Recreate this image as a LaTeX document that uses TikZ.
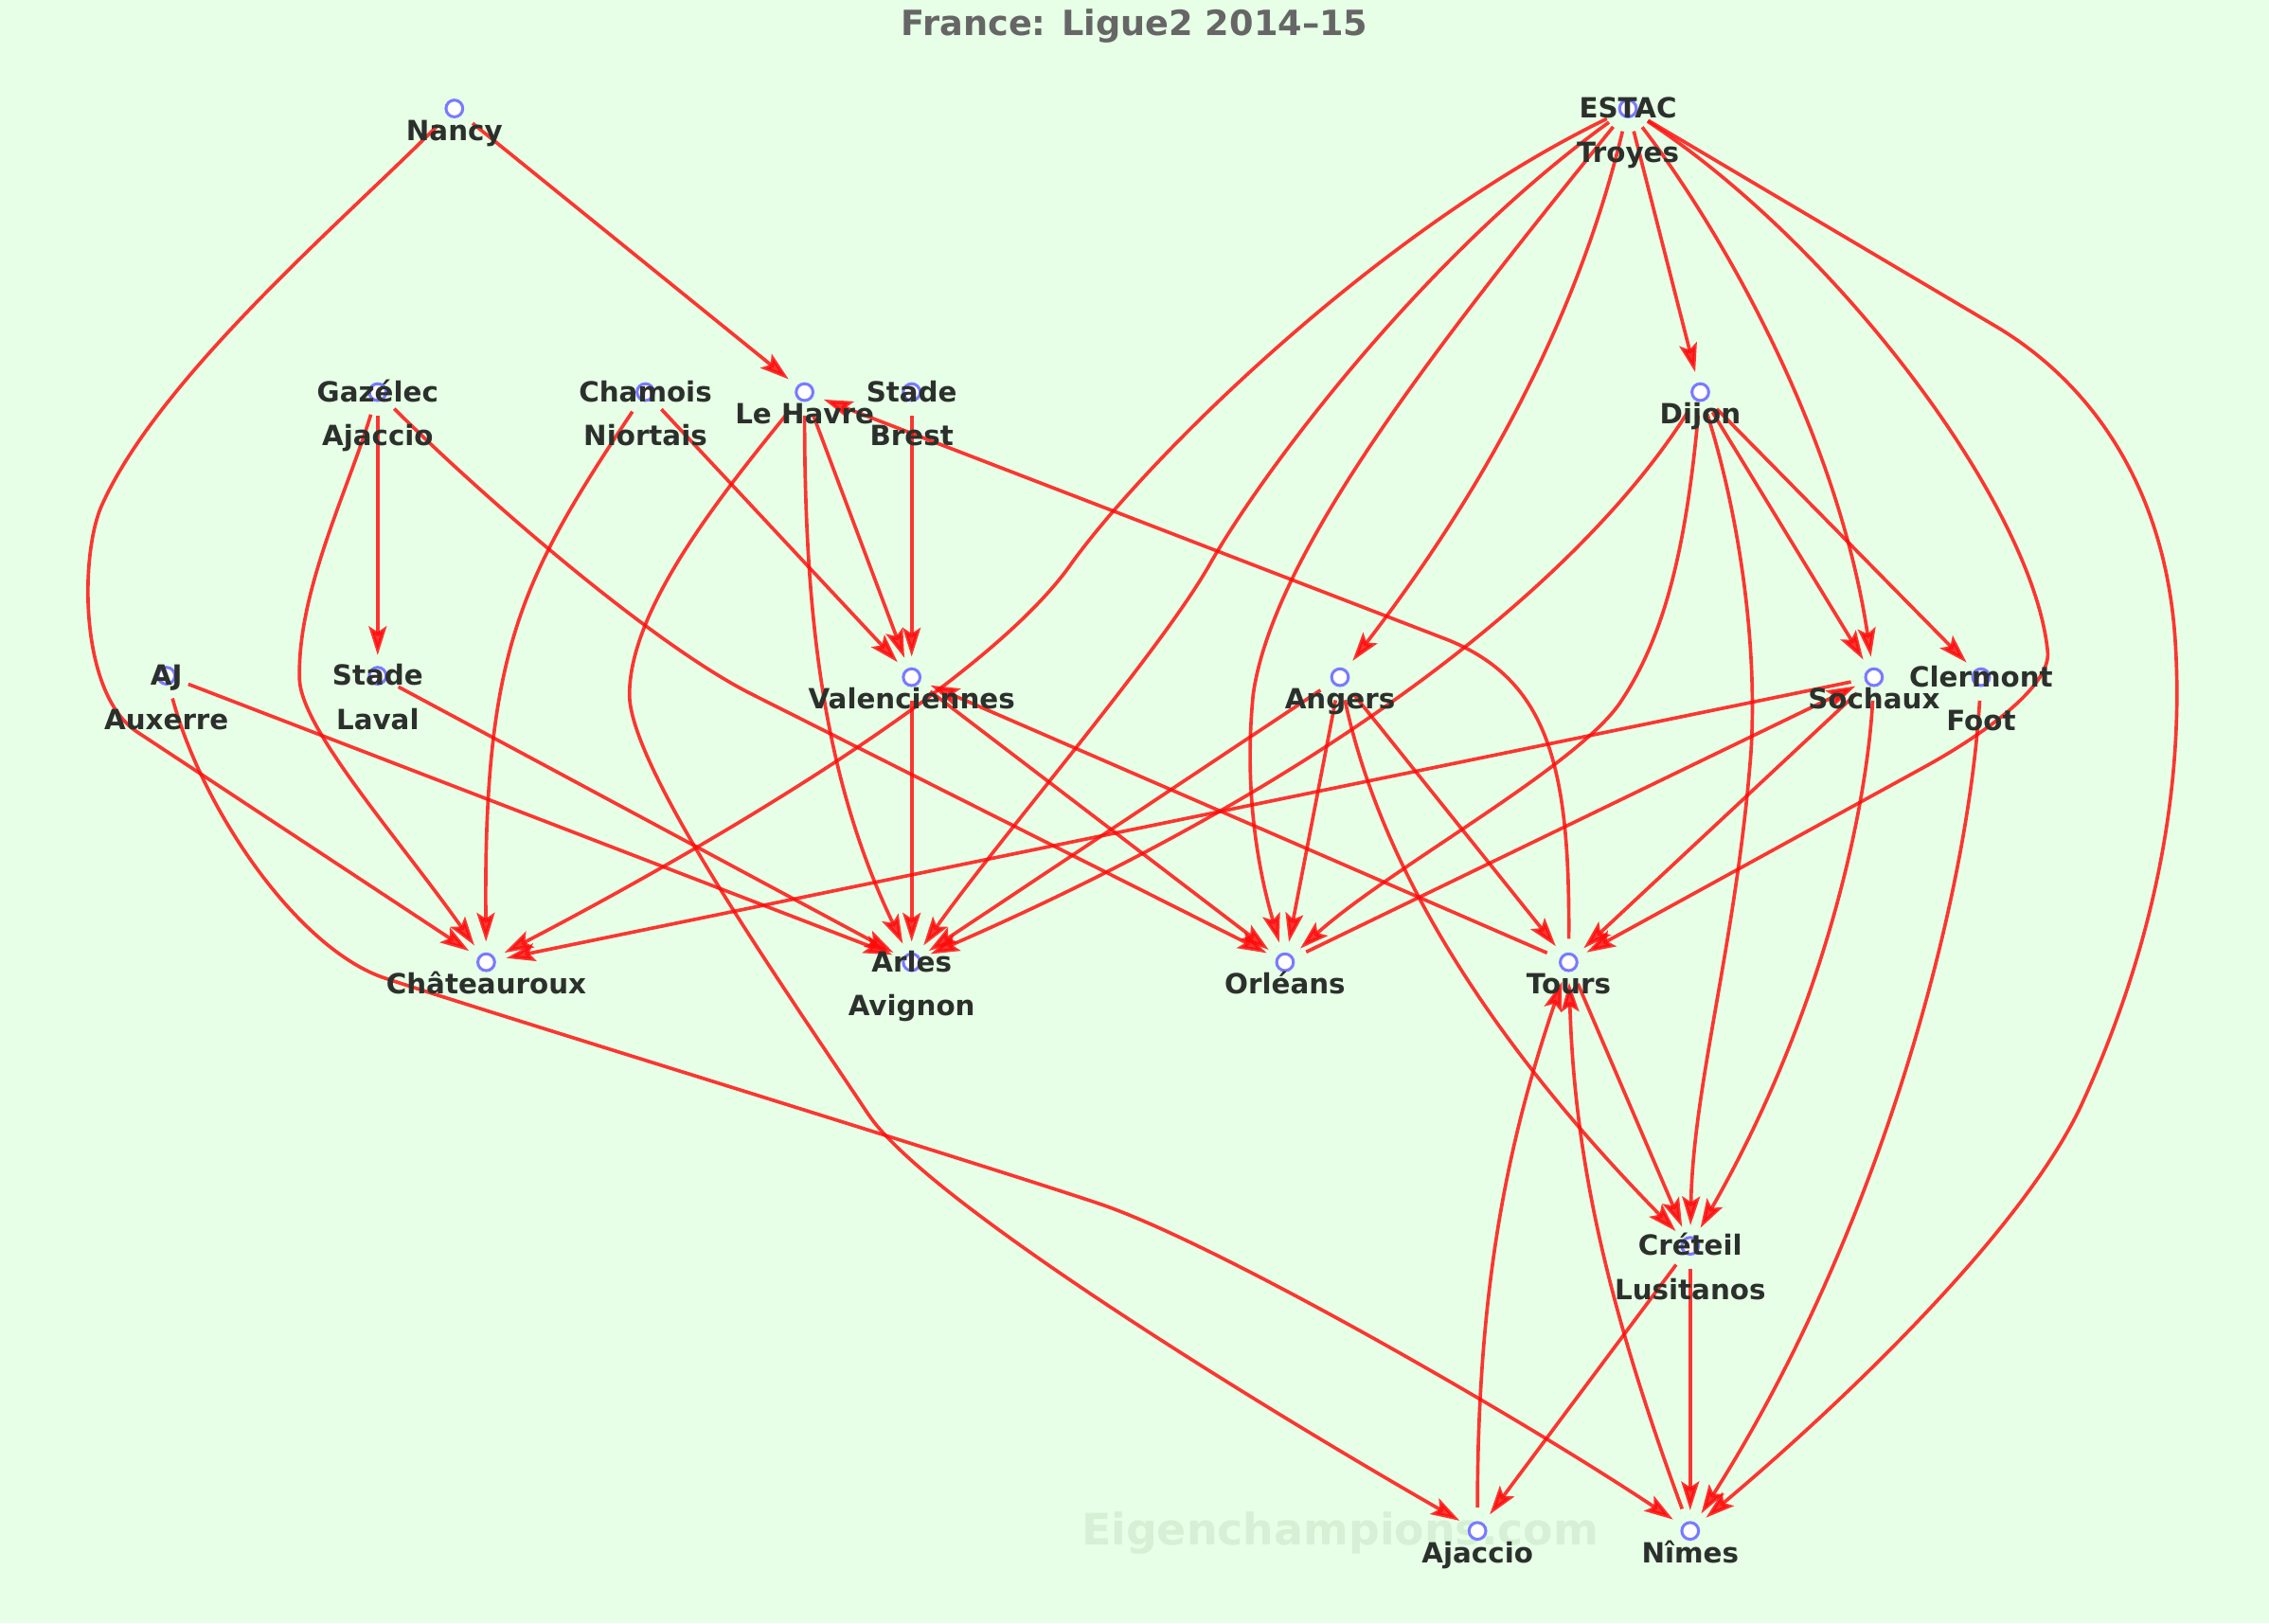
\documentclass[tikz,border=0pt]{standalone}
\usepackage{fontspec}
\setmainfont{DejaVu Sans}
\usetikzlibrary{arrows.meta}
\definecolor{bgc}{RGB}{230,255,230}
\definecolor{dotc}{RGB}{122,122,255}
\definecolor{edgec}{RGB}{255,10,10}
\definecolor{txtc}{RGB}{44,48,44}
\definecolor{ttlc}{RGB}{102,102,102}
\definecolor{wmc}{RGB}{214,240,214}
\tikzset{
  teamdot/.style={circle, draw=dotc, fill=white, line width=1pt, minimum size=5.8pt, inner sep=0pt},
  lbl/.style={font=\fontsize{9.6}{11}\selectfont\bfseries, text=txtc, inner sep=0pt, anchor=base},
  conn/.style={draw=edgec, opacity=0.82, line width=1.2pt,
    -{Stealth[length=10pt,width=6.2pt,inset=2pt]}, shorten <=4.7pt, shorten >=3.7pt},
}
\begin{document}
\begin{tikzpicture}[x=0.5pt,y=-0.5pt]
\fill[bgc] (0,0) rectangle (1568,1122);
\useasboundingbox (0,0) rectangle (1568,1122);
\node[font=\fontsize{12}{14}\selectfont\bfseries, text=ttlc, anchor=base, inner sep=0pt] (title) at (784,24.5) {France: Ligue2 2014–15};
\node[font=\fontsize{15}{18}\selectfont\bfseries, text=wmc, anchor=base, inner sep=0pt] (wm) at (926,1067.5) {Eigenchampions.com};
% team nodes
\node[teamdot] (nancy) at (314,75) {};
\node[teamdot] (estac) at (1125,75) {};
\node[teamdot] (gaz) at (261,271) {};
\node[teamdot] (niort) at (446,271) {};
\node[teamdot] (havre) at (556,271) {};
\node[teamdot] (brest) at (630,271) {};
\node[teamdot] (dijon) at (1175,271) {};
\node[teamdot] (aj) at (115,467) {};
\node[teamdot] (laval) at (261,467) {};
\node[teamdot] (valen) at (630,468) {};
\node[teamdot] (angers) at (926,468) {};
\node[teamdot] (sochaux) at (1295,468) {};
\node[teamdot] (clermont) at (1369,468) {};
\node[teamdot] (chat) at (336,665) {};
\node[teamdot] (arles) at (630,665) {};
\node[teamdot] (orleans) at (888,665) {};
\node[teamdot] (tours) at (1084,665) {};
\node[teamdot] (creteil) at (1168,861) {};
\node[teamdot] (ajaccio) at (1021,1058) {};
\node[teamdot] (nimes) at (1168,1058) {};
% connectors
\draw[conn] (nancy) -- (havre);
\draw[conn] (nancy) .. controls (240,150) and (110,260) .. (70,350) .. controls (55,385) and (55,480) .. (95,506) -- (chat);
\draw[conn] (estac) .. controls (950,160) and (790,320) .. (740,390) .. controls (680,475) and (480,590) .. (chat);
\draw[conn] (estac) .. controls (980,180) and (870,330) .. (836,390) .. controls (802,450) and (690,580) .. (arles);
\draw[conn] (estac) .. controls (1000,230) and (880,380) .. (866,480) .. controls (858,560) and (875,620) .. (orleans);
\draw[conn] (estac) .. controls (1095,200) and (1040,320) .. (angers);
\draw[conn] (estac) -- (dijon);
\draw[conn] (estac) .. controls (1190,160) and (1270,300) .. (sochaux);
\draw[conn] (estac) .. controls (1270,170) and (1405,350) .. (1415,450) .. controls (1418,474) and (1370,508) .. (1330,530) -- (tours);
\draw[conn] (estac) -- (1380,226) .. controls (1440,262) and (1495,330) .. (1503,440) .. controls (1510,540) and (1490,650) .. (1440,760) .. controls (1400,850) and (1268,974) .. (nimes);
\draw[conn] (gaz) -- (laval);
\draw[conn] (gaz) .. controls (240,340) and (205,410) .. (207,470) .. controls (209,505) and (276,580) .. (chat);
\draw[conn] (gaz) .. controls (330,340) and (450,445) .. (520,480) -- (orleans);
\draw[conn] (niort) .. controls (360,400) and (334,450) .. (chat);
\draw[conn] (niort) -- (valen);
\draw[conn] (havre) -- (valen);
\draw[conn] (havre) .. controls (556,430) and (570,540) .. (arles);
\draw[conn] (havre) .. controls (500,340) and (435,420) .. (435,480) .. controls (435,530) and (540,680) .. (600,770) .. controls (640,830) and (871,972) .. (ajaccio);
\draw[conn] (brest) -- (valen);
\draw[conn] (dijon) .. controls (1100,390) and (940,530) .. (arles);
\draw[conn] (dijon) .. controls (1165,380) and (1150,440) .. (1120,485) .. controls (1090,530) and (960,600) .. (orleans);
\draw[conn] (dijon) .. controls (1200,350) and (1215,440) .. (1210,520) .. controls (1200,650) and (1170,750) .. (creteil);
\draw[conn] (dijon) -- (sochaux);
\draw[conn] (dijon) -- (clermont);
\draw[conn] (aj) -- (arles);
\draw[conn] (aj) .. controls (140,560) and (206,656) .. (266,676) .. controls (326,696) and (680,805) .. (760,832) .. controls (840,859) and (1048,978) .. (nimes);
\draw[conn] (laval) -- (arles);
\draw[conn] (valen) -- (arles);
\draw[conn] (valen) -- (orleans);
\draw[conn] (angers) -- (arles);
\draw[conn] (angers) -- (orleans);
\draw[conn] (angers) -- (tours);
\draw[conn] (angers) .. controls (950,580) and (1010,700) .. (creteil);
\draw[conn] (sochaux) -- (chat);
\draw[conn] (orleans) -- (sochaux);
\draw[conn] (sochaux) -- (tours);
\draw[conn] (sochaux) .. controls (1290,560) and (1260,700) .. (creteil);
\draw[conn] (clermont) .. controls (1360,620) and (1300,850) .. (nimes);
\draw[conn] (tours) .. controls (1085,530) and (1070,470) .. (1000,442) -- (havre);
\draw[conn] (tours) -- (valen);
\draw[conn] (tours) -- (creteil);
\draw[conn] (creteil) -- (nimes);
\draw[conn] (creteil) -- (ajaccio);
\draw[conn] (ajaccio) .. controls (1021,880) and (1045,780) .. (tours);
\draw[conn] (nimes) .. controls (1110,900) and (1088,800) .. (tours);
% labels
\node[lbl] (nancy-t) at (314,97) {Nancy};
\node[lbl] (estac-t1) at (1125,81.5) {ESTAC};
\node[lbl] (estac-t2) at (1125,112) {Troyes};
\node[lbl] (gaz-t1) at (261,277.5) {Gazélec};
\node[lbl] (gaz-t2) at (261,308) {Ajaccio};
\node[lbl] (niort-t1) at (446,277.5) {Chamois};
\node[lbl] (niort-t2) at (446,308) {Niortais};
\node[lbl] (havre-t) at (556,293) {Le Havre};
\node[lbl] (brest-t1) at (630,277.5) {Stade};
\node[lbl] (brest-t2) at (630,308) {Brest};
\node[lbl] (dijon-t) at (1175,293) {Dijon};
\node[lbl] (aj-t1) at (115,473.5) {AJ};
\node[lbl] (aj-t2) at (115,504) {Auxerre};
\node[lbl] (laval-t1) at (261,473.5) {Stade};
\node[lbl] (laval-t2) at (261,504) {Laval};
\node[lbl] (valen-t) at (630,490) {Valenciennes};
\node[lbl] (angers-t) at (926,490) {Angers};
\node[lbl] (sochaux-t) at (1295,490) {Sochaux};
\node[lbl] (clermont-t1) at (1369,474.5) {Clermont};
\node[lbl] (clermont-t2) at (1369,505) {Foot};
\node[lbl] (chat-t) at (336,687) {Châteauroux};
\node[lbl] (arles-t1) at (630,671.5) {Arles};
\node[lbl] (arles-t2) at (630,702) {Avignon};
\node[lbl] (orleans-t) at (888,687) {Orléans};
\node[lbl] (tours-t) at (1084,687) {Tours};
\node[lbl] (creteil-t1) at (1168,867.5) {Créteil};
\node[lbl] (creteil-t2) at (1168,898) {Lusitanos};
\node[lbl] (ajaccio-t) at (1021,1080) {Ajaccio};
\node[lbl] (nimes-t) at (1168,1080) {Nîmes};
\end{tikzpicture}
\end{document}
